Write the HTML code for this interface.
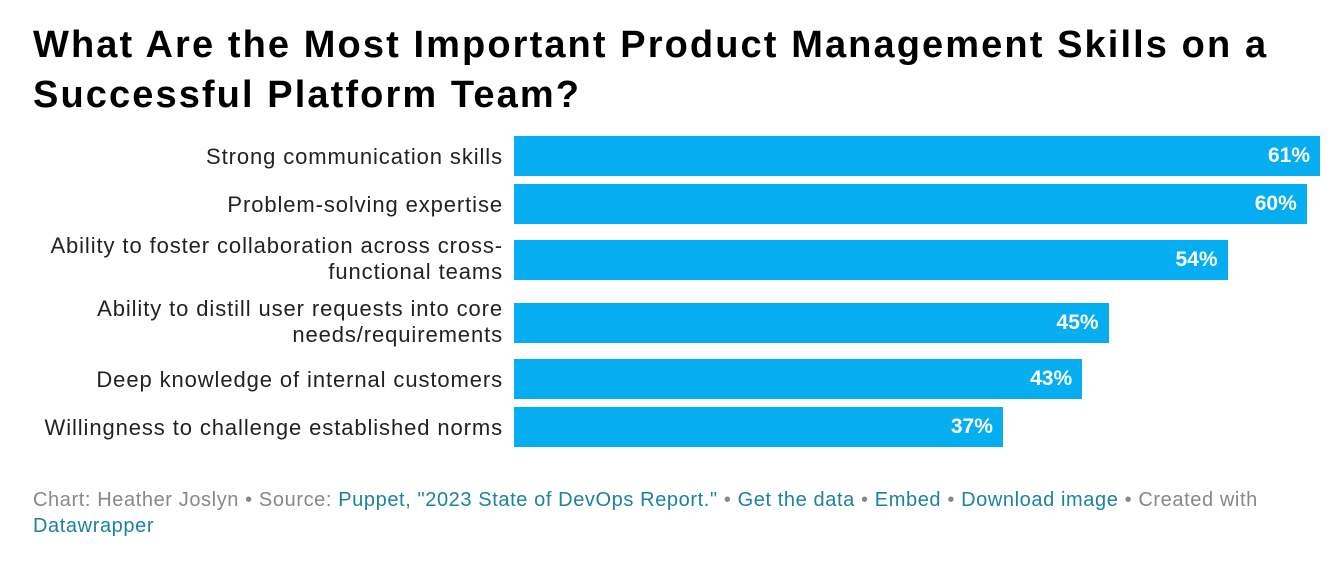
<!DOCTYPE html>
<html><head><meta charset="utf-8">
<style>
body{margin:0;width:1338px;height:580px;background:#fff;font-family:"Liberation Sans",Arial,sans-serif;overflow:hidden;position:relative}
h1{position:absolute;left:33px;top:20px;margin:0;font-size:38px;line-height:50px;font-weight:bold;color:#000;width:1295px;letter-spacing:2.1px}
.lbl{position:absolute;right:835px;text-align:right;font-size:22px;line-height:26px;color:#222;letter-spacing:0.9px;white-space:nowrap}
.bar{position:absolute;background:#04aef0}
.val{position:absolute;color:#fff;font-size:21px;font-weight:bold;text-align:right}
.foot{position:absolute;left:33px;top:487px;font-size:20px;line-height:26px;color:#888;width:1260px;letter-spacing:0.6px}
.foot a{color:#1d81a2;text-decoration:none}
</style></head><body>
<h1>What Are the Most Important Product Management Skills on a Successful Platform Team?</h1>
<div id="chart"></div>
<div class="foot">Chart: Heather Joslyn • Source: <a>Puppet, "2023 State of DevOps Report."</a> • <a>Get the data</a> • <a>Embed</a> • <a>Download image</a> • Created with <a>Datawrapper</a></div>
<script>
const categories=["Strong communication skills","Problem-solving expertise","Ability to foster collaboration across cross-<br>functional teams","Ability to distill user requests into core<br>needs/requirements","Deep knowledge of internal customers","Willingness to challenge established norms"];
const values=[61,60,54,45,43,37];
const labels=["61%","60%","54%","45%","43%","37%"];
const x0=514,scale=806/61;
const tops=[136,184,240,303,359,407];
const c=document.getElementById('chart');
function xs(v){return v*scale;}
categories.forEach((cat,i)=>{
  const t=tops[i],h=40;
  const two=cat.includes('<br>');
  const l=document.createElement('div');l.className='lbl';
  
  
  l.innerHTML=cat;l.style.top=(two?t-7:t+8)+'px';c.appendChild(l);
  const b=document.createElement('div');b.className='bar';
  
  
  b.style.left=x0+'px';b.style.top=t+'px';b.style.height=h+'px';b.style.width=xs(values[i])+'px';c.appendChild(b);
  const v=document.createElement('div');v.className='val';
  
  
  v.textContent=labels[i];v.style.left=(x0+xs(values[i])-80)+'px';v.style.width='70px';v.style.top=(t+8)+'px';c.appendChild(v);
});
</script>
</body></html>
